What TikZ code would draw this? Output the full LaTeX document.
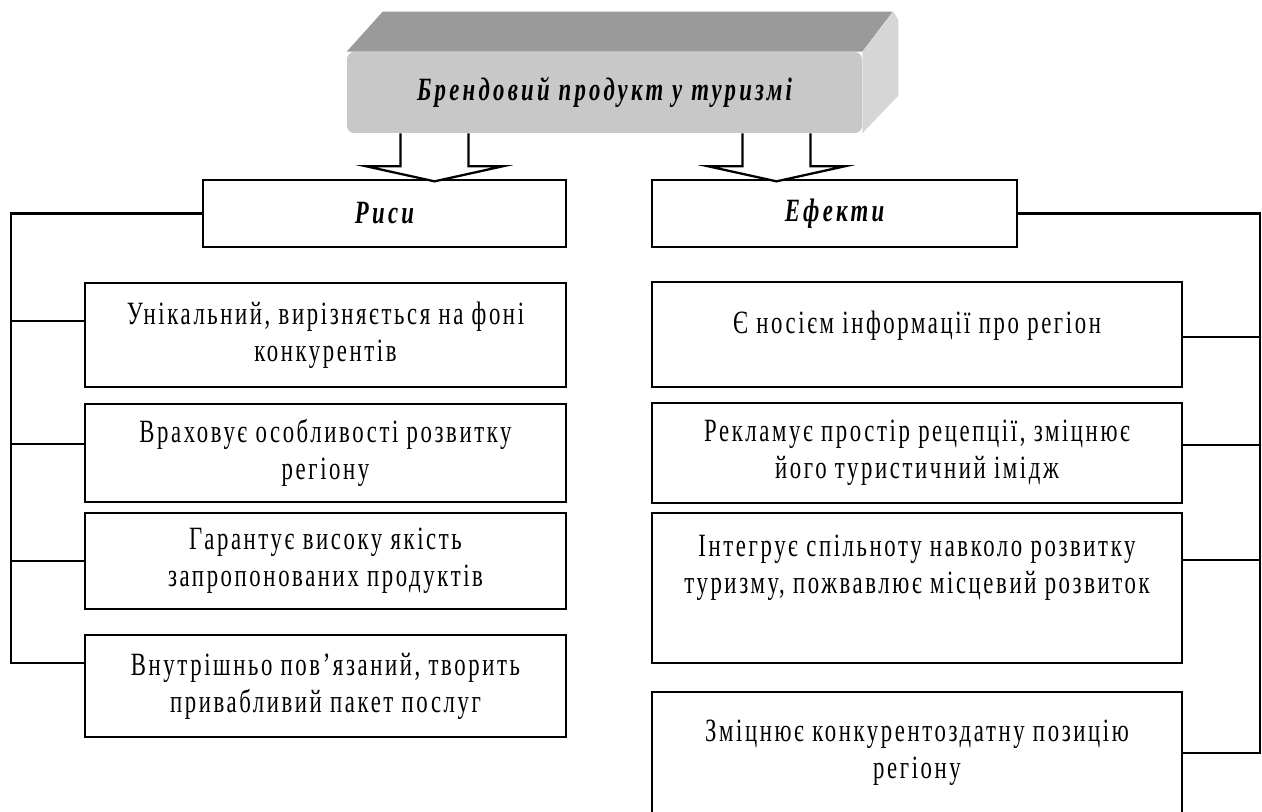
\documentclass[tikz,border=0pt]{standalone}
\usepackage{fontspec}
\setmainfont{Liberation Serif}
\newfontfamily\boxfont[FakeStretch=0.7,LetterSpace=8]{Liberation Serif}
\newfontfamily\headfont[FakeStretch=0.7,LetterSpace=10]{Liberation Serif}
\usepackage{tikz}
\usetikzlibrary{calc}

\definecolor{frontgray}{RGB}{200,200,200}
\definecolor{topgray}{RGB}{154,154,154}
\definecolor{sidegray}{RGB}{214,214,214}

\begin{document}
\begin{tikzpicture}[x=0.02cm,y=-0.02cm,
        box/.style={draw,line width=1.3pt,align=center,inner sep=0pt,
            font=\boxfont\fontsize{18.5}{21}\selectfont},
        head/.style={box,font=\headfont\bfseries\itshape\fontsize{18.5}{21}\selectfont},
        wire/.style={line width=1.3pt},
        hollow/.style={draw,fill=white,line width=1.3pt,line join=miter}]
        \useasboundingbox (0,0) rectangle (1262,812);

        \node[fill=frontgray,rounded corners=4pt,minimum width=10.3cm,minimum height=1.62cm,
            font=\headfont\bfseries\itshape\fontsize{18.5}{21}\selectfont]
            (brand) at (604.5,92.5) {Брендовий продукт у туризмі};
        \fill[topgray] (brand.north west) -- ++(36,-40) -- ++(510,0) -- (brand.north east) -- cycle;
        \fill[sidegray] (brand.north east) -- ++(31,-40) -- ++(5,8) -- ++(0,76) -- (brand.south east) -- cycle;

        \node[head,minimum width=7.26cm,minimum height=1.34cm] (ris) at (384.5,213.5) {Риси};
        \node[head,minimum width=7.3cm,minimum height=1.34cm] (ef) at (834.5,213.5) {Ефекти};

        \draw[hollow] ($(brand.south)+(-204,0)$) -- ++(0,33) -- ++(-34,0) -- ++(68,15) -- ++(68,-15) -- ++(-34,0) -- ++(0,-33);
        \draw[hollow] ($(brand.south)+(138,0)$) -- ++(0,33) -- ++(-34,0) -- ++(68,15) -- ++(68,-15) -- ++(-34,0) -- ++(0,-33);

        \node[box,minimum width=9.62cm,minimum height=2.08cm] (l1) at (325.5,335) {Унікальний, вирізняється на фоні\\ конкурентів};
        \node[box,minimum width=9.62cm,minimum height=1.96cm] (l2) at (325.5,453) {Враховує особливості розвитку\\ регіону};
        \node[box,minimum width=9.62cm,minimum height=1.92cm] (l3) at (325.5,561) {Гарантує високу якість\\ запропонованих продуктів};
        \node[box,minimum width=9.62cm,minimum height=2.04cm] (l4) at (325.5,686) {Внутрішньо пов’язаний, творить\\ привабливий пакет послуг};

        \node[box,minimum width=10.6cm,minimum height=2.1cm] (r1) at (917,334.5) {Є носієм інформації про регіон\\[-7pt]~};
        \node[box,minimum width=10.6cm,minimum height=2cm] (r2) at (917,453) {Рекламує простір рецепції, зміцнює\\ його туристичний імідж};
        \node[box,minimum width=10.6cm,minimum height=3cm] (r3) at (917,588) {Інтегрує спільноту навколо розвитку\\ туризму, пожвавлює місцевий розвиток\\[6pt]~};
        \node[box,minimum width=10.6cm,minimum height=2.44cm] (r4) at (917,753) {Зміцнює конкурентоздатну позицію\\ регіону};

        \draw[wire] (ris.west) -- ++(-191,0) coordinate (lbus) |- ([yshift=0.46cm]l4.west);
        \draw[wire] ([yshift=0.28cm]l1.west) -- ([yshift=0.28cm]l1.west -| lbus);
        \draw[wire] ([yshift=0.18cm]l2.west) -- ([yshift=0.18cm]l2.west -| lbus);
        \draw[wire] (l3.west) -- (l3.west -| lbus);

        \draw[wire] (ef.east) -- ++(242,0) coordinate (rbus) |- (r4.east);
        \draw[wire] ([yshift=-0.05cm]r1.east) -- ([yshift=-0.05cm]r1.east -| rbus);
        \draw[wire] ([yshift=0.16cm]r2.east) -- ([yshift=0.16cm]r2.east -| rbus);
        \draw[wire] ([yshift=0.56cm]r3.east) -- ([yshift=0.56cm]r3.east -| rbus);
    \end{tikzpicture}
\end{document}
